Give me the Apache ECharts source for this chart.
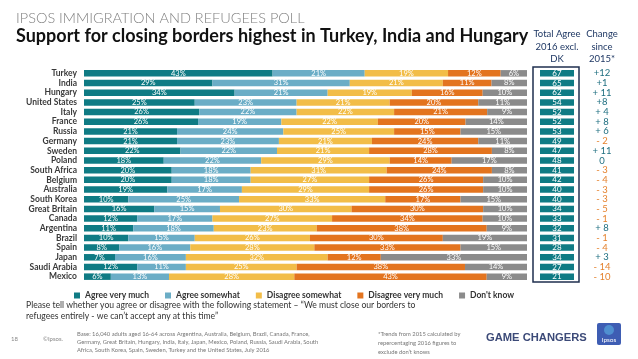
<!DOCTYPE html>
<html><head><meta charset="utf-8">
<script src="https://cdn.jsdelivr.net/npm/echarts@6/dist/echarts.min.js"></script>
<style>html,body{margin:0;padding:0;background:#fff}#c{width:638px;height:359px}</style>
</head><body><div id="c"></div>
<script>
const categories = ['Turkey','India','Hungary','United States','Italy','France','Russia','Germany','Sweden','Poland','South Africa','Belgium','Australia','South Korea','Great Britain','Canada','Argentina','Brazil','Spain','Japan','Saudi Arabia','Mexico'];
const agreeVeryMuch    = [43,29,34,25,26,26,21,21,22,18,20,20,19,10,16,12,11,10,8,7,12,6];
const agreeSomewhat    = [21,31,21,23,22,19,24,23,22,22,18,18,17,25,15,17,18,15,16,16,11,13];
const disagreeSomewhat = [19,21,19,21,22,22,25,21,21,29,31,27,29,33,30,27,23,26,28,32,25,28];
const disagreeVeryMuch = [12,11,16,20,21,20,15,24,28,14,24,26,26,17,30,34,38,30,33,12,38,43];
const dontKnow         = [6,8,10,11,9,14,15,11,8,17,8,10,10,15,10,10,9,19,15,33,14,9];
const totalAgree       = [67,65,62,54,52,52,53,49,47,48,41,42,40,40,34,33,32,31,28,34,27,21];
const changeLabels     = ['+12','+1','+ 11','+8','+ 4','+ 8','+ 6','- 2','+ 11','0','- 3','- 4','- 3','- 3','- 5','- 1','+ 8','- 1','- 4','+ 3','- 14','- 10'];
const seriesNames = ['Agree very much','Agree somewhat','Disagree somewhat','Disagree very much',"Don't know"];

const colors = ['#0f7b84','#6badc6','#f2bd48','#e3741f','#8b8b8b'];
const allSeries = [agreeVeryMuch, agreeSomewhat, disagreeSomewhat, disagreeVeryMuch, dontKnow];
const rowSums = categories.map((_, i) => allSeries.reduce((s, a) => s + a[i], 0));

const FONT = 'Lato, "Open Sans", sans-serif';
const chart = echarts.init(document.getElementById('c'), null, {renderer: 'canvas'});

const barSeries = allSeries.map((arr, k) => ({
  name: seriesNames[k], type: 'bar', stack: 'all', xAxisIndex: 0, yAxisIndex: 0,
  barWidth: 6.5,
  itemStyle: {color: colors[k]},
  label: {show: true, position: 'inside', color: '#fff', fontSize: 7.5, fontFamily: FONT,
    formatter: p => p.data.raw + '%'},
  data: arr.map((v, i) => ({value: v * 100 / rowSums[i], raw: v}))
}));

const option = {
  animation: false,
  backgroundColor: '#fff',
  color: colors,
  legend: {
    left: 69, top: 286, itemWidth: 6, itemHeight: 6, itemGap: 16, icon: 'rect',
    textStyle: {fontSize: 8.5, fontWeight: 'bold', color: '#333', fontFamily: FONT},
    data: seriesNames
  },
  grid: [
    {left: 84, right: 111, top: 68.5, height: 213},
    {left: 540, width: 34, top: 68.5, height: 213}
  ],
  xAxis: [
    {gridIndex: 0, type: 'value', min: 0, max: 100, show: false},
    {gridIndex: 1, type: 'value', min: 0, max: 1, show: false}
  ],
  yAxis: [
    {gridIndex: 0, type: 'category', data: categories, inverse: true,
     axisLine: {show: false}, axisTick: {show: false},
     axisLabel: {interval: 0, fontSize: 8.5, fontWeight: 'bold', color: '#3a3a3a', margin: 7, fontFamily: FONT}},
    {gridIndex: 1, type: 'category', data: categories, inverse: true, position: 'right',
     axisLine: {show: false}, axisTick: {show: false},
     axisLabel: {interval: 0, margin: 28, align: 'center', fontFamily: FONT,
       formatter: (v, i) => changeLabels[i].charAt(0) === '-' ? '{n|' + changeLabels[i] + '}' : '{p|' + changeLabels[i] + '}',
       rich: {p: {color: '#1f6f80', fontSize: 9.5, fontFamily: FONT}, n: {color: '#e5822e', fontSize: 9.5, fontFamily: FONT}}}}
  ],
  series: barSeries.concat([{
    name: 'Total Agree', type: 'bar', xAxisIndex: 1, yAxisIndex: 1, barWidth: 6.5,
    itemStyle: {color: '#0f7b84'},
    label: {show: true, position: 'inside', color: '#fff', fontSize: 8, fontFamily: FONT,
      formatter: p => p.data.raw},
    data: totalAgree.map(v => ({value: 1, raw: v}))
  }]),
  graphic: [
    {type: 'text', left: 16, top: 11, style: {text: 'IPSOS IMMIGRATION AND REFUGEES POLL', fontSize: 14.5, fontWeight: 300, fill: '#808080', fontFamily: FONT}},
    {type: 'text', left: 16, top: 27, style: {text: 'Support for closing borders highest in Turkey, India and Hungary', fontSize: 18, fontWeight: 'bold', fill: '#111', fontFamily: FONT}},
    {type: 'text', x: 557, y: 28, style: {text: 'Total Agree\n2016 excl.\nDK', fontSize: 9.5, lineHeight: 12.5, align: 'center', fill: '#1f3864', fontFamily: FONT}},
    {type: 'text', x: 602, y: 28, style: {text: 'Change\nsince\n2015*', fontSize: 9.5, lineHeight: 12.5, align: 'center', fill: '#1f3864', fontFamily: FONT}},
    {type: 'rect', shape: {x: 533, y: 67, width: 46, height: 215}, style: {fill: 'none', stroke: '#1f2f4f', lineWidth: 1.5}},
    {type: 'text', left: 26, top: 300, style: {text: 'Please tell whether you agree or disagree with the following statement \u2013 \u201CWe must close our borders to\nrefugees entirely - we can\u2019t accept any at this time\u201D', fontSize: 8.6, lineHeight: 11, fill: '#333', fontFamily: FONT}},
    {type: 'text', left: 11, top: 336, style: {text: '18', fontSize: 6, fill: '#888', fontFamily: FONT}},
    {type: 'text', left: 43, top: 336, style: {text: '\u00A9Ipsos.', fontSize: 6, fill: '#888', fontFamily: FONT}},
    {type: 'text', left: 77, top: 330, style: {text: 'Base: 16,040 adults aged 16-64 across Argentina, Australia, Belgium, Brazil, Canada, France,\nGermany, Great Britain, Hungary, India, Italy, Japan, Mexico, Poland, Russia, Saudi Arabia, South\nAfrica, South Korea, Spain, Sweden, Turkey and the United States, July 2016', fontSize: 5.8, lineHeight: 8, fill: '#777', fontFamily: FONT}},
    {type: 'text', left: 378, top: 330, style: {text: '*Trends from 2015 calculated by\nrepercentaging 2016 figures to\nexclude don\u2019t knows', fontSize: 5.8, lineHeight: 9, fill: '#777', fontFamily: FONT}},
    {type: 'text', left: 486, top: 332, style: {text: 'GAME CHANGERS', fontSize: 11.2, fontWeight: 'bold', fill: '#3c4a78', fontFamily: '"Liberation Sans", Arial, sans-serif'}},
    {type: 'rect', shape: {x: 597, y: 323, width: 24, height: 22, r: 2}, style: {fill: '#3e5db3'}},
    {type: 'circle', shape: {cx: 609, cy: 330, r: 5}, style: {fill: '#4f8fd0'}},
    {type: 'text', x: 609, y: 340, style: {text: 'Ipsos', fontSize: 6.5, fill: '#fff', align: 'center', verticalAlign: 'middle', fontFamily: FONT}}
  ]
};
chart.setOption(option);
</script></body></html>
